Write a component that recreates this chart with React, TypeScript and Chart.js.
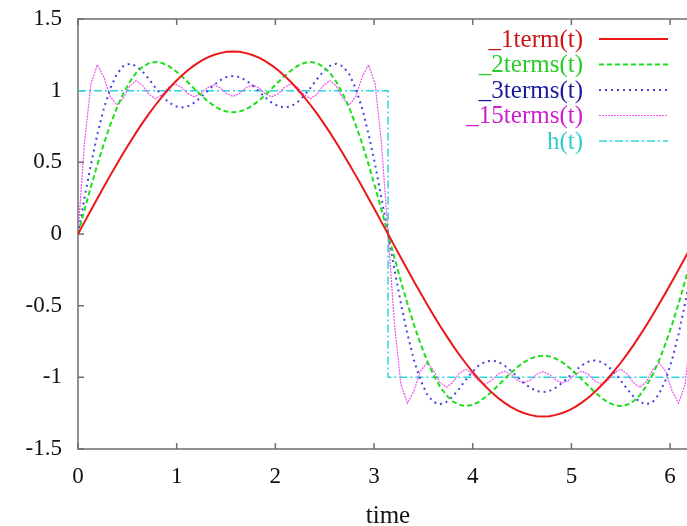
import React, { useEffect, useRef } from "react";
import { Chart, registerables } from "chart.js";

Chart.register(...registerables);

const seriesNames = ["_1term(t)", "_2terms(t)", "_3terms(t)", "_15terms(t)", "h(t)"];
const xTickValues = [0, 1, 2, 3, 4, 5, 6];
const xTickLabels = ["0", "1", "2", "3", "4", "5", "6"];
const yTickValues = [-1.5, -1, -0.5, 0, 0.5, 1, 1.5];
const yTickLabels = ["-1.5", "-1", "-0.5", "0", "0.5", "1", "1.5"];

const timeValues = [
  0, 0.065, 0.131, 0.196, 0.262, 0.327, 0.393, 0.458, 0.524, 0.589, 0.654, 0.72, 0.785,
  0.851, 0.916, 0.982, 1.047, 1.113, 1.178, 1.244, 1.309, 1.374, 1.44, 1.505, 1.571,
  1.636, 1.702, 1.767, 1.833, 1.898, 1.963, 2.029, 2.094, 2.16, 2.225, 2.291, 2.356,
  2.422, 2.487, 2.553, 2.618, 2.683, 2.749, 2.814, 2.88, 2.945, 3.011, 3.076, 3.142,
  3.207, 3.272, 3.338, 3.403, 3.469, 3.534, 3.6, 3.665, 3.731, 3.796, 3.862, 3.927,
  3.992, 4.058, 4.123, 4.189, 4.254, 4.32, 4.385, 4.451, 4.516, 4.581, 4.647, 4.712,
  4.778, 4.843, 4.909, 4.974, 5.04, 5.105, 5.171, 5.236, 5.301, 5.367, 5.432, 5.498,
  5.563, 5.629, 5.694, 5.76, 5.825, 5.89, 5.956, 6.021, 6.087, 6.152, 6.218, 6.283,
];

const oneTerm = [
  0, 0.083, 0.166, 0.248, 0.33, 0.409, 0.487, 0.563, 0.637, 0.707, 0.775, 0.84, 0.9,
  0.957, 1.01, 1.059, 1.103, 1.142, 1.176, 1.206, 1.23, 1.249, 1.262, 1.271, 1.273,
  1.271, 1.262, 1.249, 1.23, 1.206, 1.176, 1.142, 1.103, 1.059, 1.01, 0.957, 0.9,
  0.84, 0.775, 0.707, 0.637, 0.563, 0.487, 0.409, 0.33, 0.248, 0.166, 0.083, 0,
  -0.083, -0.166, -0.248, -0.33, -0.409, -0.487, -0.563, -0.637, -0.707, -0.775, -0.84, -0.9,
  -0.957, -1.01, -1.059, -1.103, -1.142, -1.176, -1.206, -1.23, -1.249, -1.262, -1.271, -1.273,
  -1.271, -1.262, -1.249, -1.23, -1.206, -1.176, -1.142, -1.103, -1.059, -1.01, -0.957, -0.9,
  -0.84, -0.775, -0.707, -0.637, -0.563, -0.487, -0.409, -0.33, -0.248, -0.166, -0.083, 0,
];

const twoTerms = [
  0, 0.166, 0.329, 0.484, 0.63, 0.762, 0.879, 0.979, 1.061, 1.124, 1.167, 1.192, 1.2,
  1.193, 1.173, 1.141, 1.103, 1.059, 1.014, 0.97, 0.93, 0.896, 0.87, 0.854, 0.849,
  0.854, 0.87, 0.896, 0.93, 0.97, 1.014, 1.059, 1.103, 1.141, 1.173, 1.193, 1.2,
  1.192, 1.167, 1.124, 1.061, 0.979, 0.879, 0.762, 0.63, 0.484, 0.329, 0.166, 0,
  -0.166, -0.329, -0.484, -0.63, -0.762, -0.879, -0.979, -1.061, -1.124, -1.167, -1.192, -1.2,
  -1.193, -1.173, -1.141, -1.103, -1.059, -1.014, -0.97, -0.93, -0.896, -0.87, -0.854, -0.849,
  -0.854, -0.87, -0.896, -0.93, -0.97, -1.014, -1.059, -1.103, -1.141, -1.173, -1.193, -1.2,
  -1.192, -1.167, -1.124, -1.061, -0.979, -0.879, -0.762, -0.63, -0.484, -0.329, -0.166, 0,
];

const threeTerms = [
  0, 0.248, 0.484, 0.696, 0.876, 1.016, 1.115, 1.171, 1.188, 1.173, 1.134, 1.08, 1.02,
  0.965, 0.92, 0.892, 0.882, 0.891, 0.916, 0.953, 0.996, 1.037, 1.072, 1.095, 1.103,
  1.095, 1.072, 1.037, 0.996, 0.953, 0.916, 0.891, 0.882, 0.892, 0.92, 0.965, 1.02,
  1.08, 1.134, 1.173, 1.188, 1.171, 1.115, 1.016, 0.876, 0.696, 0.484, 0.248, 0,
  -0.248, -0.484, -0.696, -0.876, -1.016, -1.115, -1.171, -1.188, -1.173, -1.134, -1.08, -1.02,
  -0.965, -0.92, -0.892, -0.882, -0.891, -0.916, -0.953, -0.996, -1.037, -1.072, -1.095, -1.103,
  -1.095, -1.072, -1.037, -0.996, -0.953, -0.916, -0.891, -0.882, -0.892, -0.92, -0.965, -1.02,
  -1.08, -1.134, -1.173, -1.188, -1.171, -1.115, -1.016, -0.876, -0.696, -0.484, -0.248, 0,
];

const fifteenTerms = [
  0, 0.628, 1.049, 1.18, 1.096, 0.958, 0.9, 0.947, 1.032, 1.07, 1.037, 0.974, 0.944,
  0.971, 1.023, 1.048, 1.024, 0.979, 0.957, 0.978, 1.02, 1.04, 1.02, 0.98, 0.96,
  0.98, 1.02, 1.04, 1.02, 0.978, 0.957, 0.979, 1.024, 1.048, 1.023, 0.971, 0.944,
  0.974, 1.037, 1.07, 1.032, 0.947, 0.9, 0.958, 1.096, 1.18, 1.049, 0.628, 0,
  -0.628, -1.049, -1.18, -1.096, -0.958, -0.9, -0.947, -1.032, -1.07, -1.037, -0.974, -0.944,
  -0.971, -1.023, -1.048, -1.024, -0.979, -0.957, -0.978, -1.02, -1.04, -1.02, -0.98, -0.96,
  -0.98, -1.02, -1.04, -1.02, -0.978, -0.957, -0.979, -1.024, -1.048, -1.023, -0.971, -0.944,
  -0.974, -1.037, -1.07, -1.032, -0.947, -0.9, -0.958, -1.096, -1.18, -1.049, -0.628, 0,
];

const hTimes = [0, 3.142, 3.142, 6.283];
const hValues = [1, 1, -1, -1];

const lineColors = ["rgb(236,24,24)", "rgb(30,222,30)", "rgb(70,70,220)", "rgb(240,80,240)", "rgb(40,215,215)"];
const textColors = ["rgb(205,20,20)", "rgb(40,205,40)", "rgb(25,25,160)", "rgb(205,30,205)", "rgb(50,205,205)"];
const lineWidths = [2, 2, 2, 1.2, 1.5];
const lineDashes: number[][] = [[], [5, 3], [2, 4], [2, 1], [8, 3, 2, 3]];

const SERIF = '"Liberation Serif", "DejaVu Serif", serif';

const framePlugin = {
  id: "gnuFrame",
  beforeDatasetsDraw(chart: any) {
    const { ctx, chartArea: a, scales } = chart;
    ctx.save();
    ctx.strokeStyle = "#6e6e6e";
    ctx.lineWidth = 1.5;
    ctx.strokeRect(a.left, a.top, a.right - a.left, a.bottom - a.top);
    ctx.beginPath();
    for (const v of xTickValues) {
      const px = scales.x.getPixelForValue(v);
      ctx.moveTo(px, a.bottom);
      ctx.lineTo(px, a.bottom - 6);
      ctx.moveTo(px, a.top);
      ctx.lineTo(px, a.top + 6);
    }
    for (const v of yTickValues) {
      const py = scales.y.getPixelForValue(v);
      ctx.moveTo(a.left, py);
      ctx.lineTo(a.left + 6, py);
      ctx.moveTo(a.right, py);
      ctx.lineTo(a.right - 6, py);
    }
    ctx.stroke();
    ctx.restore();
  },
};

const legendPlugin = {
  id: "gnuLegend",
  afterDatasetsDraw(chart: any) {
    const { ctx, chartArea: a } = chart;
    ctx.save();
    ctx.font = `25px ${SERIF}`;
    ctx.textAlign = "right";
    ctx.textBaseline = "middle";
    const textRight = a.right - 115;
    const s0 = a.right - 99;
    const s1 = a.right - 30;
    chart.data.datasets.forEach((ds: any, i: number) => {
      const y = a.top + 20 + i * 25.5;
      ctx.fillStyle = textColors[i];
      ctx.fillText(ds.label, textRight, y + 1);
      ctx.beginPath();
      ctx.strokeStyle = ds.borderColor;
      ctx.lineWidth = ds.borderWidth;
      ctx.setLineDash(ds.borderDash || []);
      ctx.moveTo(s0, y);
      ctx.lineTo(s1, y);
      ctx.stroke();
    });
    ctx.restore();
  },
};

export default function App() {
  const ref = useRef<HTMLCanvasElement | null>(null);

  useEffect(() => {
    if (!ref.current) return;
    const seriesValues = [oneTerm, twoTerms, threeTerms, fifteenTerms];
    const datasets: any[] = seriesValues.map((vals, k) => ({
      label: seriesNames[k],
      data: timeValues.map((t, i) => ({ x: t, y: vals[i] })),
      borderColor: lineColors[k],
      borderWidth: lineWidths[k],
      borderDash: lineDashes[k],
      pointRadius: 0,
      tension: 0,
      fill: false,
    }));
    datasets.push({
      label: seriesNames[4],
      data: hTimes.map((t, i) => ({ x: t, y: hValues[i] })),
      borderColor: lineColors[4],
      borderWidth: lineWidths[4],
      borderDash: lineDashes[4],
      pointRadius: 0,
      tension: 0,
      fill: false,
    });

    const chart = new Chart(ref.current, {
      type: "line",
      data: { datasets },
      plugins: [framePlugin, legendPlugin],
      options: {
        animation: false,
        responsive: false,
        parsing: false as any,
        normalized: true,
        layout: { padding: { left: 0, top: 19, right: 2, bottom: 0 } },
        plugins: { legend: { display: false }, tooltip: { enabled: false } },
        scales: {
          x: {
            type: "linear",
            min: 0,
            max: 6.283,
            grid: { display: false, drawTicks: false },
            border: { display: false },
            afterBuildTicks: (s: any) => {
              s.ticks = xTickValues.map((v) => ({ value: v }));
            },
            afterFit: (s: any) => {
              s.height = 77;
              s.paddingLeft = 0;
              s.paddingRight = 0;
            },
            ticks: {
              padding: 14,
              color: "#111",
              font: { family: SERIF, size: 23 },
              maxRotation: 0,
              autoSkip: false,
              callback: (v: any) => xTickLabels[xTickValues.indexOf(Number(v))],
            },
            title: {
              display: true,
              text: "time",
              color: "#111",
              font: { family: SERIF, size: 25, lineHeight: 1 },
              padding: { top: 0, bottom: -3 },
            },
          },
          y: {
            type: "linear",
            min: -1.5,
            max: 1.5,
            grid: { display: false, drawTicks: false },
            border: { display: false },
            afterBuildTicks: (s: any) => {
              s.ticks = yTickValues.map((v) => ({ value: v }));
            },
            afterFit: (s: any) => {
              s.width = 78;
              s.paddingTop = 0;
              s.paddingBottom = 0;
            },
            ticks: {
              padding: 16,
              color: "#111",
              font: { family: SERIF, size: 23 },
              autoSkip: false,
              callback: (v: any) => yTickLabels[yTickValues.indexOf(Number(v))],
            },
          },
        },
      },
    });
    return () => chart.destroy();
  }, []);

  return (
    <div
      style={{
        position: "fixed",
        left: 0,
        top: 0,
        width: 687,
        height: 526,
        overflow: "hidden",
        background: "#fff",
      }}
    >
      <canvas ref={ref} width={700} height={526} style={{ display: "block", width: 700, height: 526 }} />
    </div>
  );
}
